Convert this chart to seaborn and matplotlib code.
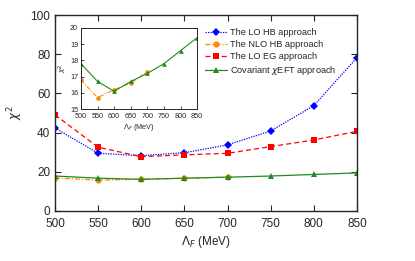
import matplotlib
matplotlib.use('Agg')
import matplotlib.pyplot as plt
import seaborn as sns
import pandas as pd

cutoff = [500, 550, 600, 650, 700, 750, 800, 850]
cutoff_nlo = [500, 550, 600, 650, 700]

lo_hb = [42.3, 29.4, 28.2, 29.7, 33.7, 40.8, 53.7, 78.2]
nlo_hb = [16.8, 15.7, 16.2, 16.6, 17.3]
lo_eg = [49.0, 32.5, 27.7, 28.6, 29.4, 32.8, 36.2, 40.6]
cov = [17.8, 16.7, 16.1, 16.7, 17.2, 17.8, 18.6, 19.4]

labels = ['The LO HB approach', 'The NLO HB approach',
          'The LO EG approach', r'Covariant $\chi$EFT approach']

sns.set_style('ticks')
plt.rcParams['font.family'] = ['Liberation Sans', 'DejaVu Sans']
plt.rcParams['mathtext.fontset'] = 'dejavusans'

fig = plt.figure(figsize=(4.15, 2.61), dpi=100)
ax = fig.add_axes([0.1325, 0.192, 0.7275, 0.7505])

series = [
    (cutoff, lo_hb, labels[0], '#0000ff', (0, (1, 1)), 'D', 4),
    (cutoff_nlo, nlo_hb, labels[1], '#ff8c00', (0, (4, 1.5, 1, 1.5)), 'o', 4.5),
    (cutoff, lo_eg, labels[2], '#ff0000', (0, (4, 2.5)), 's', 4),
    (cutoff, cov, labels[3], '#218a21', '-', '^', 4.5),
]


def draw(axis, lw=0.9, scale=1.0):
    for x, y, lab, c, ls, m, ms in series:
        df = pd.DataFrame({'x': x, 'y': y})
        sns.lineplot(data=df, x='x', y='y', ax=axis, color=c, label=lab,
                     linestyle=ls, linewidth=lw, marker=m, markersize=ms * scale,
                     markeredgewidth=0, legend=False)


draw(ax)
ax.set_xlim(500, 850)
ax.set_ylim(0, 100)
ax.set_xticks(cutoff)
ax.set_yticks([0, 20, 40, 60, 80, 100])
ax.tick_params(direction='in', top=True, right=True, labelsize=8.5, length=4, width=0.8)
ax.tick_params(axis='x', pad=5)
ax.set_xlabel(r'$\Lambda_F$ (MeV)', fontsize=8.5, labelpad=3)
ax.set_ylabel(r'$\chi^2$', fontsize=8.5)
for s in ax.spines.values():
    s.set_linewidth(1.0)
ax.legend(loc='upper left', bbox_to_anchor=(0.484, 0.95), frameon=False,
          fontsize=6.6, handlelength=2.4, handletextpad=0.3, labelspacing=0.3,
          borderaxespad=0)

ins = fig.add_axes([0.195, 0.582, 0.28, 0.311])
draw(ins, lw=0.8, scale=0.75)
ins.set_xlim(500, 850)
ins.set_ylim(15, 20)
ins.set_xticks(cutoff)
ins.set_yticks([15, 16, 17, 18, 19, 20])
ins.tick_params(direction='in', labelsize=5.2, length=2, width=0.6, pad=2)
ins.tick_params(axis='x', pad=3)
ins.set_xlabel(r'$\Lambda_F$ (MeV)', fontsize=5.2, labelpad=1)
ins.set_ylabel(r'$\chi^2$', fontsize=5.2, labelpad=1)
for s in ins.spines.values():
    s.set_linewidth(0.7)

fig.savefig('out.png', dpi=100)
